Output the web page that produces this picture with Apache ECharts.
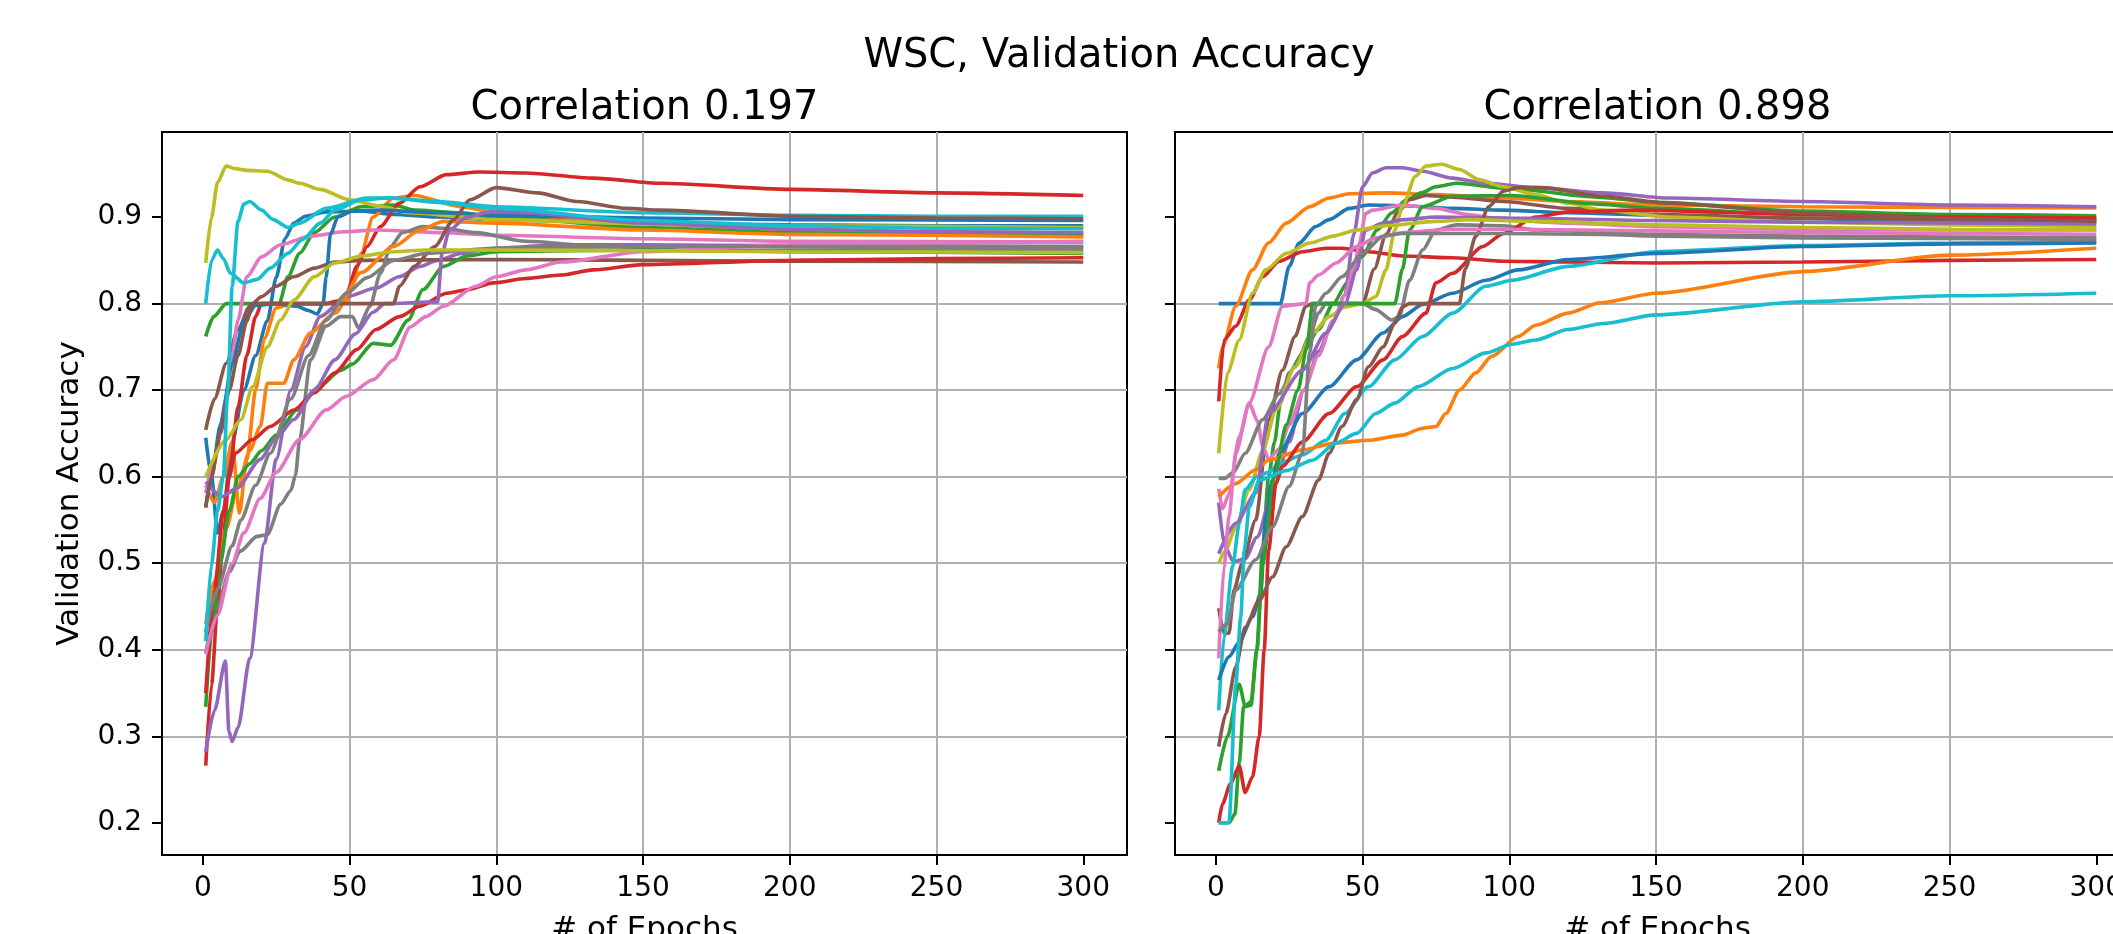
<!DOCTYPE html>
<html>
<head>
<meta charset="utf-8">
<script src="https://cdn.jsdelivr.net/npm/echarts@6/dist/echarts.min.js"></script>
<style>
  html, body { margin: 0; padding: 0; background: #fff; overflow: hidden; width: 2113px; height: 934px; }
  /* the figure is wider than the window: the right panel runs off the edge */
  #chart { width: 2240px; height: 934px; }
</style>
</head>
<body>
<div id="chart"></div>
<script>
// ── Texts / ticks ────────────────────────────────────────────────────────
const suptitle = 'WSC, Validation Accuracy';
const panelTitles = ['Correlation 0.197', 'Correlation 0.898'];
const xTicks = [0, 50, 100, 150, 200, 250, 300];
const yTicks = [0.2, 0.3, 0.4, 0.5, 0.6, 0.7, 0.8, 0.9];

// ── Left panel runs: [epoch, accuracy] ───────────────────────────────────
const leftBlueA = [[1,0.645],[3,0.6],[5,0.535],[7,0.56],[10,0.64],[14,0.70],[18,0.74],[22,0.78],[25,0.83],[28,0.875],[31,0.893],[35,0.901],[42,0.906],[54,0.907],[65,0.903],[80,0.9],[100,0.897],[150,0.893],[200,0.891],[250,0.89],[300,0.89]];
const leftOrangeA = [[1,0.59],[4,0.57],[7,0.6],[10,0.64],[12.5,0.558],[15,0.62],[18,0.7],[21,0.76],[25,0.795],[30,0.8],[40,0.8],[49,0.801],[51,0.82],[54,0.858],[58,0.9],[65,0.922],[72,0.925],[88,0.912],[100,0.905],[122,0.897],[150,0.892],[200,0.886],[250,0.883],[300,0.881]];
const leftGreenA = [[1,0.762],[3.7,0.785],[8,0.8],[26,0.8],[29,0.831],[33,0.858],[38,0.882],[45,0.9],[54,0.912],[65,0.914],[72,0.908],[88,0.905],[100,0.9],[150,0.888],[200,0.882],[250,0.88],[300,0.879]];
const leftRedA = [[1,0.266],[3,0.36],[5,0.45],[7,0.53],[9,0.6],[12,0.68],[15,0.74],[18,0.785],[20,0.8],[30,0.8],[42,0.8],[46,0.803],[49,0.812],[52.5,0.843],[56,0.866],[60.5,0.889],[67,0.916],[74,0.935],[83,0.949],[94,0.952],[110,0.951],[133,0.945],[156,0.939],[200,0.932],[250,0.928],[300,0.925]];
const leftPurpleA = [[1,0.282],[4,0.33],[7.7,0.387],[8.9,0.306],[10,0.294],[12,0.31],[16,0.39],[21,0.523],[25,0.62],[30,0.7],[35,0.75],[40,0.785],[49,0.808],[59,0.818],[67,0.831],[74,0.843],[80,0.85],[88,0.858],[99,0.864],[122,0.868],[150,0.868],[200,0.867],[300,0.866]];
const leftBrownA = [[1,0.654],[4,0.69],[8,0.731],[12,0.77],[16,0.797],[20,0.808],[25,0.82],[31,0.831],[38,0.841],[45,0.848],[54,0.85],[100,0.851],[150,0.85],[200,0.849],[300,0.848]];
const leftPinkA = [[1,0.581],[4,0.62],[8,0.69],[10,0.74],[12,0.781],[15,0.831],[20,0.854],[26.5,0.868],[36.7,0.878],[48,0.883],[59,0.885],[82,0.882],[100,0.879],[150,0.875],[200,0.872],[300,0.871]];
const leftGrayA = [[1,0.396],[5,0.45],[9,0.49],[12.8,0.514],[18.5,0.531],[22,0.533],[26.5,0.568],[30,0.584],[31.6,0.602],[33,0.643],[36.7,0.735],[42,0.774],[47,0.785],[51,0.785],[53,0.772],[57,0.797],[60.5,0.835],[64,0.866],[68,0.882],[75,0.889],[82,0.887],[93,0.882],[110,0.872],[133,0.867],[170,0.861],[200,0.862],[300,0.863]];
const leftOliveA = [[1,0.847],[3,0.9],[5,0.94],[8,0.959],[11,0.956],[15,0.954],[22,0.953],[29,0.943],[33,0.939],[40,0.932],[50,0.92],[60,0.913],[70,0.905],[100,0.897],[150,0.892],[200,0.89],[300,0.888]];
const leftCyanA = [[1,0.8],[3,0.85],[5,0.862],[7,0.852],[9.4,0.835],[14,0.824],[18.5,0.828],[23,0.841],[29,0.858],[34,0.874],[40,0.893],[45,0.908],[54,0.92],[63,0.922],[80,0.918],[100,0.912],[150,0.905],[200,0.902],[250,0.901],[300,0.9008]];
const leftBlueB = [[1,0.565],[3,0.6],[6,0.66],[10,0.73],[14,0.78],[18,0.798],[25,0.8],[32,0.797],[36,0.792],[39,0.788],[41,0.8],[42,0.83],[43.5,0.88],[46,0.9],[51,0.907],[60,0.908],[80,0.905],[100,0.902],[150,0.899],[200,0.897],[300,0.896]];
const leftOrangeB = [[1,0.43],[4,0.48],[8,0.54],[12,0.59],[16,0.63],[19.6,0.658],[22,0.708],[27.6,0.708],[31,0.735],[36.7,0.766],[45,0.789],[54,0.836],[65,0.866],[74,0.885],[82,0.895],[100,0.893],[150,0.885],[200,0.88],[300,0.877]];
const leftGreenB = [[1,0.334],[3,0.42],[6,0.5],[9,0.56],[12,0.6],[16,0.615],[20,0.63],[25,0.648],[32,0.677],[40,0.705],[47,0.723],[51,0.73],[58,0.754],[64,0.752],[70,0.781],[75,0.816],[82,0.843],[90,0.855],[100,0.86],[150,0.862],[200,0.86],[300,0.858]];
const leftRedB = [[1,0.35],[4,0.47],[7,0.56],[9,0.6],[11,0.627],[17,0.643],[23,0.658],[31,0.677],[38,0.697],[45,0.72],[52.5,0.747],[59,0.77],[67,0.785],[74,0.797],[83,0.812],[90,0.816],[99,0.824],[110,0.829],[122,0.833],[133,0.839],[150,0.845],[200,0.85],[250,0.852],[300,0.853]];
const leftPurpleB = [[1,0.594],[6.6,0.577],[11.7,0.587],[19.6,0.62],[25,0.645],[31,0.666],[38,0.7],[45,0.735],[52,0.765],[58,0.79],[62,0.8],[80,0.802],[81.5,0.858],[84,0.885],[90,0.9],[99,0.907],[110,0.905],[150,0.893],[200,0.886],[250,0.883],[300,0.882]];
const leftBrownB = [[1,0.564],[3,0.6],[6,0.65],[9,0.7],[12,0.74],[15,0.78],[17,0.8],[65,0.8],[67,0.82],[72,0.843],[79,0.866],[85.5,0.897],[91,0.92],[100,0.934],[114,0.928],[127.5,0.918],[144.5,0.91],[156,0.908],[200,0.901],[250,0.899],[300,0.898]];
const leftPinkB = [[1,0.395],[5,0.44],[10,0.5],[14,0.535],[19.6,0.575],[25,0.605],[33,0.643],[42,0.677],[49,0.693],[58,0.712],[65,0.735],[70.7,0.773],[76,0.785],[82,0.797],[93,0.82],[100,0.831],[110,0.839],[122,0.848],[150,0.86],[200,0.868],[250,0.87],[300,0.872]];
const leftGrayB = [[1,0.42],[5,0.47],[10,0.52],[13,0.55],[18,0.59],[23,0.627],[30,0.69],[36,0.74],[42,0.781],[49,0.812],[56,0.83],[65,0.85],[76,0.858],[99,0.864],[150,0.866],[200,0.866],[300,0.866]];
const leftOliveB = [[1,0.6],[8,0.643],[13,0.666],[17,0.704],[22,0.75],[26.5,0.781],[31,0.804],[38,0.831],[45,0.847],[54,0.855],[65,0.86],[76,0.862],[100,0.862],[150,0.861],[200,0.86],[300,0.859]];
const leftCyanB = [[1,0.41],[3,0.5],[5,0.56],[7,0.6],[8.5,0.7],[10,0.82],[12,0.895],[14,0.915],[16,0.918],[20,0.908],[24,0.897],[29,0.888],[33,0.893],[42,0.91],[56,0.922],[65,0.922],[80,0.917],[100,0.91],[150,0.896],[200,0.89],[250,0.887],[300,0.8865]];

// ── Right panel runs: [epoch, accuracy] ──────────────────────────────────
const rightBlueA = [[1,0.8],[22,0.8],[25,0.843],[28.4,0.87],[34,0.889],[38.6,0.897],[45.5,0.91],[52,0.914],[63.6,0.913],[80.7,0.91],[98,0.908],[120,0.905],[150,0.902],[200,0.898],[250,0.896],[300,0.894]];
const rightOrangeA = [[1,0.725],[2.3,0.75],[6.8,0.797],[12.5,0.839],[18,0.87],[24,0.893],[32,0.912],[38.6,0.922],[45.5,0.927],[58,0.928],[75,0.926],[98,0.922],[120,0.918],[150,0.914],[200,0.912],[250,0.911],[300,0.9105]];
const rightGreenA = [[1,0.26],[4,0.3],[8,0.36],[10,0.335],[12,0.34],[14,0.4],[16,0.52],[18,0.6],[20,0.64],[22,0.685],[25,0.72],[30,0.745],[35,0.77],[40,0.8],[45,0.825],[50,0.855],[55,0.885],[60,0.905],[65,0.92],[70,0.928],[75,0.935],[82,0.939],[100,0.933],[130,0.923],[150,0.917],[200,0.907],[250,0.903],[300,0.9015]];
const rightRedA = [[1,0.687],[2.8,0.758],[6.8,0.774],[11.4,0.804],[16,0.831],[21.6,0.849],[29.5,0.86],[37.5,0.864],[43,0.864],[52,0.86],[63.6,0.855],[80.7,0.853],[98,0.849],[120,0.848],[150,0.847],[200,0.848],[250,0.85],[300,0.851]];
const rightPurpleA = [[1,0.57],[3,0.52],[6,0.502],[10,0.505],[14,0.53],[20,0.59],[25,0.64],[30,0.7],[35,0.745],[40,0.78],[44,0.81],[47,0.88],[50,0.935],[53.4,0.951],[58,0.957],[63.6,0.957],[70.5,0.953],[80.7,0.945],[92,0.939],[109,0.934],[132,0.928],[154.5,0.922],[200,0.918],[250,0.914],[300,0.912]];
const rightBrownA = [[1,0.448],[2.8,0.419],[4.5,0.419],[6.2,0.469],[9,0.5],[13.6,0.55],[18,0.666],[22.7,0.723],[27,0.762],[30.7,0.797],[33,0.8],[50,0.8],[54,0.84],[58,0.88],[62,0.905],[66,0.92],[71.6,0.925],[80.7,0.923],[98,0.918],[120,0.91],[150,0.903],[200,0.899],[250,0.897],[300,0.896]];
const rightPinkA = [[1,0.586],[2.3,0.563],[4.5,0.58],[8,0.646],[11.4,0.685],[14.2,0.664],[16,0.635],[18,0.62],[21.6,0.632],[25,0.66],[30,0.7],[35,0.74],[40,0.78],[44,0.81],[47,0.84],[49,0.87],[51,0.904],[53.4,0.908],[63.6,0.914],[75,0.91],[86,0.903],[98,0.897],[120,0.893],[150,0.889],[200,0.886],[250,0.885],[300,0.885]];
const rightGrayA = [[1,0.598],[3,0.598],[6,0.605],[10,0.627],[16,0.666],[21.6,0.696],[27,0.727],[32,0.762],[35,0.789],[37.5,0.8],[50,0.8],[54.5,0.793],[60,0.781],[62.5,0.785],[66,0.827],[70.5,0.862],[75,0.885],[82,0.891],[98,0.89],[109,0.885],[150,0.88],[200,0.878],[250,0.877],[300,0.876]];
const rightOliveA = [[1,0.5],[3.4,0.515],[6.8,0.542],[11.4,0.585],[16,0.63],[20.5,0.677],[27,0.727],[33,0.766],[38.6,0.785],[44,0.796],[50,0.8],[54.5,0.808],[58,0.839],[61,0.885],[63.6,0.912],[68,0.947],[71.6,0.959],[77,0.961],[83,0.955],[90,0.943],[98,0.935],[109,0.926],[120,0.916],[132,0.908],[154.5,0.9],[200,0.894],[250,0.891],[300,0.889]];
const rightCyanA = [[1,0.33],[2.8,0.415],[5.7,0.496],[8,0.546],[10,0.585],[14,0.6],[18,0.605],[21.6,0.615],[29.5,0.625],[37.5,0.642],[44,0.673],[52,0.704],[61,0.735],[70.5,0.762],[80.7,0.789],[92,0.82],[101,0.827],[120,0.843],[150,0.86],[200,0.867],[250,0.87],[300,0.871]];
const rightBlueB = [[1,0.365],[4.5,0.392],[8,0.409],[12.5,0.438],[15.3,0.465],[17,0.554],[19.3,0.596],[21.6,0.627],[29.5,0.673],[38.6,0.704],[48,0.735],[57,0.766],[63.6,0.785],[70.5,0.799],[80.7,0.812],[92,0.827],[103,0.839],[120,0.851],[150,0.858],[200,0.866],[250,0.869],[300,0.87]];
const rightOrangeB = [[1,0.577],[6.8,0.592],[13.6,0.608],[18,0.619],[29.5,0.631],[41,0.639],[52,0.642],[63.6,0.648],[70.5,0.656],[75,0.658],[78.4,0.673],[83,0.7],[88.6,0.72],[94,0.739],[103,0.762],[109,0.775],[120,0.789],[131,0.801],[150,0.812],[200,0.837],[250,0.856],[300,0.864]];
const rightGreenB = [[1,0.2],[4.5,0.2],[6.5,0.21],[8,0.27],[9.5,0.334],[12,0.336],[14,0.4],[16,0.5],[20,0.6],[24,0.66],[28,0.7],[31,0.75],[33,0.8],[61,0.8],[63.6,0.84],[66,0.885],[70.5,0.912],[80.7,0.924],[100,0.925],[130,0.915],[150,0.91],[200,0.903],[250,0.9],[300,0.898]];
const rightRedB = [[1,0.2],[2.3,0.222],[5,0.245],[8,0.266],[10,0.235],[12.5,0.253],[14.8,0.3],[16.5,0.4],[18,0.515],[20.5,0.592],[22.7,0.612],[29.5,0.64],[38.6,0.673],[48,0.704],[57,0.735],[63.6,0.762],[71.6,0.789],[75,0.824],[80.7,0.835],[91,0.866],[98,0.881],[109,0.9],[120,0.906],[143,0.908],[200,0.903],[250,0.9],[300,0.899]];
const rightPurpleB = [[1,0.511],[6.8,0.546],[13.6,0.581],[18,0.673],[29.5,0.723],[37.5,0.766],[44,0.8],[48,0.839],[51,0.885],[57,0.893],[64,0.897],[75,0.9],[100,0.899],[150,0.896],[200,0.894],[300,0.892]];
const rightBrownB = [[1,0.288],[3.4,0.326],[6.8,0.38],[10,0.426],[14.8,0.457],[19.3,0.484],[24,0.519],[29.5,0.554],[35,0.596],[38.6,0.627],[43,0.658],[48,0.689],[52,0.727],[57,0.75],[61,0.777],[63.6,0.796],[66,0.8],[83,0.8],[85,0.84],[88.6,0.878],[93,0.912],[98,0.93],[103,0.934],[111,0.934],[132,0.924],[154.5,0.916],[200,0.905],[250,0.898],[300,0.895]];
const rightPinkB = [[1,0.39],[2.8,0.496],[4.5,0.554],[6.8,0.627],[11.4,0.685],[18,0.75],[22.7,0.797],[30.7,0.8],[32,0.824],[35,0.833],[41,0.847],[48,0.866],[54.5,0.876],[64,0.882],[80,0.886],[100,0.886],[150,0.884],[200,0.882],[250,0.881],[300,0.88]];
const rightGrayB = [[1,0.421],[4,0.43],[6.8,0.469],[13.6,0.504],[19.3,0.542],[25,0.589],[29.5,0.627],[32,0.743],[34,0.797],[37.5,0.812],[43,0.831],[50,0.858],[57,0.878],[63.6,0.881],[80.7,0.881],[98,0.881],[132,0.88],[150,0.878],[200,0.876],[300,0.874]];
const rightOliveB = [[1,0.627],[4,0.72],[8,0.758],[12.5,0.812],[17,0.839],[24,0.858],[32,0.87],[40,0.878],[48,0.885],[58,0.89],[75,0.895],[86,0.897],[109,0.895],[150,0.891],[200,0.888],[250,0.886],[300,0.885]];
const rightCyanB = [[1,0.2],[4.5,0.2],[6.8,0.36],[8.5,0.438],[9.7,0.515],[11.4,0.565],[14.8,0.596],[24,0.607],[33,0.619],[41,0.639],[48,0.65],[54.5,0.673],[61,0.685],[69,0.704],[80.7,0.725],[92,0.743],[101,0.753],[109,0.758],[120,0.77],[132,0.777],[150,0.787],[200,0.802],[250,0.809],[300,0.812]];

const leftRuns = [leftBlueA, leftOrangeA, leftGreenA, leftRedA, leftPurpleA, leftBrownA, leftPinkA, leftGrayA, leftOliveA, leftCyanA,
                  leftBlueB, leftOrangeB, leftGreenB, leftRedB, leftPurpleB, leftBrownB, leftPinkB, leftGrayB, leftOliveB, leftCyanB];
const rightRuns = [rightBlueA, rightOrangeA, rightGreenA, rightRedA, rightPurpleA, rightBrownA, rightPinkA, rightGrayA, rightOliveA, rightCyanA,
                   rightBlueB, rightOrangeB, rightGreenB, rightRedB, rightPurpleB, rightBrownB, rightPinkB, rightGrayB, rightOliveB, rightCyanB];

// matplotlib tab10 cycle
const tab10 = ['#1f77b4', '#ff7f0e', '#2ca02c', '#d62728', '#9467bd', '#8c564b', '#e377c2', '#7f7f7f', '#bcbd22', '#17becf'];

// ── Layout ───────────────────────────────────────────────────────────────
const font = 'DejaVu Sans';
const tickFont = 28;
const labelFont = 31;
const titleFont = 40;
const plotTop = 132, plotH = 723, plotW = 965;
const panelLeft = [162, 1175];
const xRange = [-13.9, 314.9];
const yRange = [0.1628, 0.9983];
const spine = '#000';
const gridColor = '#b0b0b0';

const chart = echarts.init(document.getElementById('chart'));

// outerBoundsMode 'none': keep the boxes exactly where they are (v6 would shrink them to fit labels)
const grids = panelLeft.map(l => ({
  left: l, top: plotTop, width: plotW, height: plotH, outerBoundsMode: 'none',
  show: true, borderColor: spine, borderWidth: 2, backgroundColor: 'transparent'
}));

const xAxes = panelLeft.map((l, i) => ({
  type: 'value', gridIndex: i, min: xRange[0], max: xRange[1],
  splitNumber: 7, minInterval: 50, maxInterval: 50,
  name: '# of Epochs', nameLocation: 'middle', nameGap: 59,
  nameTextStyle: { fontSize: labelFont, fontFamily: font, color: '#000' },
  axisLine: { show: true, onZero: false, lineStyle: { color: spine, width: 2 } },
  axisTick: { show: true, length: 10, customValues: xTicks, lineStyle: { color: spine, width: 2 } },
  axisLabel: { customValues: xTicks, fontSize: tickFont, fontFamily: font, color: '#000', margin: 20 },
  splitLine: { show: true, showMinLine: false, showMaxLine: false, lineStyle: { color: gridColor, width: 2 } }
}));

const yAxes = panelLeft.map((l, i) => ({
  type: 'value', gridIndex: i, min: yRange[0], max: yRange[1],
  splitNumber: 8, minInterval: 0.1, maxInterval: 0.1,
  axisLine: { show: true, onZero: false, lineStyle: { color: spine, width: 2 } },
  axisTick: { show: true, length: 10, customValues: yTicks, lineStyle: { color: spine, width: 2 } },
  axisLabel: { show: i === 0, customValues: yTicks, formatter: v => v.toFixed(1),
               fontSize: tickFont, fontFamily: font, color: '#000', margin: 20 },
  splitLine: { show: true, showMinLine: false, showMaxLine: false, lineStyle: { color: gridColor, width: 2 } }
}));

const makeSeries = (runs, idx) => runs.map((run, k) => ({
  type: 'line', xAxisIndex: idx, yAxisIndex: idx,
  data: run, showSymbol: false, smooth: 0.25, smoothMonotone: 'x',
  lineStyle: { color: tab10[k % 10], width: 3.6 },
  itemStyle: { color: tab10[k % 10] },
  silent: true, z: 3
}));

const panelCenter = l => l + plotW / 2;

chart.setOption({
  animation: false,
  backgroundColor: '#fff',
  grid: grids,
  xAxis: xAxes,
  yAxis: yAxes,
  series: [...makeSeries(leftRuns, 0), ...makeSeries(rightRuns, 1)],
  graphic: [
    { type: 'text', x: 1119, y: 57, style: { text: suptitle, fontSize: titleFont, fontFamily: font, fill: '#000', align: 'center', verticalAlign: 'middle' } },
    { type: 'text', x: panelCenter(panelLeft[0]), y: 109, style: { text: panelTitles[0], fontSize: titleFont, fontFamily: font, fill: '#000', align: 'center', verticalAlign: 'middle' } },
    { type: 'text', x: panelCenter(panelLeft[1]), y: 109, style: { text: panelTitles[1], fontSize: titleFont, fontFamily: font, fill: '#000', align: 'center', verticalAlign: 'middle' } },
    { type: 'text', x: 70, y: plotTop + plotH / 2, rotation: Math.PI / 2,
      style: { text: 'Validation Accuracy', fontSize: labelFont, fontFamily: font, fill: '#000', align: 'center', verticalAlign: 'middle' } }
  ]
});
</script>
</body>
</html>
